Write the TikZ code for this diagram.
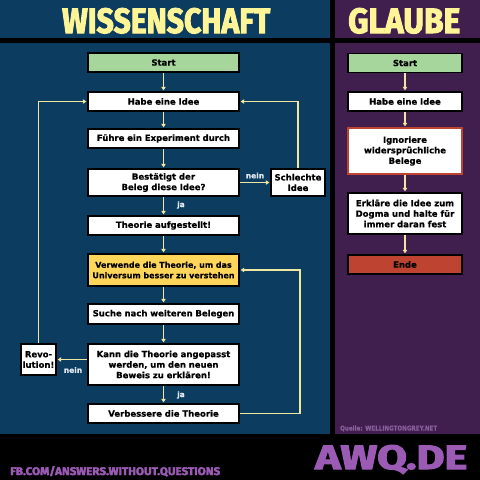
\documentclass[tikz,border=0pt]{standalone}
\usepackage{fontspec}
\setmainfont{DejaVu Sans}[BoldFeatures={FakeBold=0.6}]
\newfontfamily\headfont{Fira Sans}[BoldFeatures={FakeBold=3}]
\usetikzlibrary{arrows.meta}
\definecolor{bgblue}{RGB}{12,60,95}
\definecolor{bgpurple}{RGB}{64,30,78}
\definecolor{headyellow}{RGB}{255,245,150}
\definecolor{boxgreen}{RGB}{166,214,156}
\definecolor{boxyellow}{RGB}{255,214,90}
\definecolor{boxred}{RGB}{190,67,48}
\definecolor{arrowc}{RGB}{240,232,160}
\definecolor{awqpurple}{RGB}{155,90,180}
\definecolor{quellec}{RGB}{135,95,155}
\definecolor{labelc}{RGB}{225,232,240}
\begin{document}
\begin{tikzpicture}[x=1pt,y=-1pt,
  box/.style={draw=black, line width=1.8pt, fill=white, text=black,
    font=\bfseries\fontsize{8.5}{10.5}\selectfont, align=center,
    inner sep=1pt, minimum height=19pt},
  lbox/.style={box, text width=149pt},
  rbox/.style={box, text width=112pt},
  arr/.style={draw=arrowc, line width=1.2pt, -{Triangle[width=4.5pt,length=3.5pt]}, shorten >=0.8pt},
  lab/.style={text=labelc, font=\bfseries\fontsize{7.5}{9}\selectfont, inner sep=0pt},
  hbig/.style={anchor=base west, inner sep=0pt, font=\headfont\bfseries}
]
\useasboundingbox (0,0) rectangle (480,480);
\fill[black] (0,0) rectangle (480,480);
\fill[bgblue] (0,0) rectangle (330,38);
\fill[bgpurple] (335,0) rectangle (480,38);
\fill[bgblue] (0,43) rectangle (330,434);
\fill[bgpurple] (335,43) rectangle (480,434);

\node[hbig, text=headyellow] (hw) at (62,33) {\resizebox{208pt}{25pt}{WISSENSCHAFT}};
\node[hbig, text=headyellow] (hg) at (348,33) {\resizebox{112pt}{25pt}{GLAUBE}};
\node[hbig, text=awqpurple] (awq) at (315,469) {\resizebox{152pt}{24pt}{AWQ.DE}};
\node[hbig, text=awqpurple] (fb) at (10,475) {\resizebox{210pt}{9pt}{FB.COM/ANSWERS.WITHOUT.QUESTIONS}};
\node[anchor=base west, inner sep=0pt, text=quellec, font=\bfseries] (quelle) at (340,430.5) {\resizebox{97pt}{5pt}{Quelle: WELLINGTONGREY.NET}};

% left flowchart
\node[lbox, fill=boxgreen] (start) at (163.5,62.5) {Start};
\node[lbox] (idea) at (163.5,101.5) {Habe eine Idee};
\node[lbox] (exp) at (163.5,138.5) {Führe ein Experiment durch};
\node[lbox, minimum height=27pt] (conf) at (163.5,182.5) {Bestätigt der\\Beleg diese Idee?};
\node[lbox] (theory) at (163.5,225.5) {Theorie aufgestellt!};
\node[lbox, fill=boxyellow, minimum height=32pt, font=\bfseries\fontsize{8}{10.5}\selectfont] (use) at (163.5,270) {Verwende die Theorie, um das\\Universum besser zu verstehen};
\node[lbox, minimum height=20pt] (search) at (163.5,314) {Suche nach weiteren Belegen};
\node[lbox, minimum height=41pt] (adapt) at (163.5,364.5) {Kann die Theorie angepasst\\werden, um den neuen\\Beweis zu erklären!};
\node[lbox] (improve) at (163.5,413.5) {Verbessere die Theorie};
\node[box, text width=52pt, minimum height=27pt] (bad) at (298,182.5) {Schlechte\\Idee};
\node[box, text width=33pt, minimum height=31pt] (revo) at (38.5,359.5) {Revo-\\lution!};
\coordinate (loopR) at (300,270);

\draw[arr] (start) -- (idea);
\draw[arr] (idea) -- (exp);
\draw[arr] (exp) -- (conf);
\draw[arr] (conf) -- (theory);
\draw[arr] (theory) -- (use);
\draw[arr] (use) -- (search);
\draw[arr] (search) -- (adapt);
\draw[arr] (adapt) -- (improve);
\draw[arr] (conf.east) -- (bad.west);
\draw[arr] (bad.north) |- (idea.east);
\draw[arr] (adapt.west |- revo.east) -- (revo.east);
\draw[arr] (revo.north) |- (idea.west);
\draw[arr] (improve.east) -| (loopR) -- (use.east);

\node[lab] (l1) at (255,175.5) {nein};
\node[lab] (l2) at (181,205) {ja};
\node[lab] (l3) at (73,370) {nein};
\node[lab] (l4) at (181,395) {ja};

% right flowchart
\node[rbox, fill=boxgreen] (rstart) at (405,63) {Start};
\node[rbox] (ridea) at (405,101.5) {Habe eine Idee};
\node[rbox, draw=boxred, minimum height=46pt] (ignore) at (405,151) {Ignoriere\\widersprüchliche\\Belege};
\node[rbox, minimum height=41pt] (dogma) at (405,213.5) {Erkläre die Idee zum\\Dogma und halte für\\immer daran fest};
\node[rbox, fill=boxred] (rend) at (405,264.5) {Ende};

\draw[arr] (rstart) -- (ridea);
\draw[arr] (ridea) -- (ignore);
\draw[arr] (ignore) -- (dogma);
\draw[arr] (dogma) -- (rend);
\end{tikzpicture}
\end{document}
